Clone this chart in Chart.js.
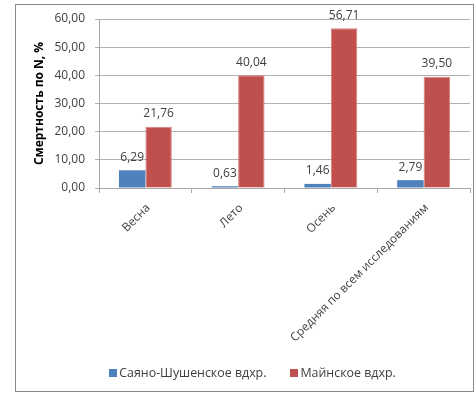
<!DOCTYPE html>
<html>
<head>
<meta charset="utf-8">
<style>
html,body{margin:0;padding:0;background:#fff;}
#wrap{position:absolute;left:0;top:0;width:474px;height:393px;}
</style>
<script src="https://cdn.jsdelivr.net/npm/chart.js@4.4.1/dist/chart.umd.min.js"></script>
</head>
<body>
<div id="wrap"><canvas id="c" width="474" height="393"></canvas></div>
<script>
const categories = ['Весна', 'Лето', 'Осень', 'Средняя по всем исследованиям'];
const seriesNames = ['Саяно-Шушенское вдхр.', 'Майнское вдхр.'];
const sayanoValues = [6.29, 0.63, 1.46, 2.79];
const mainskoeValues = [21.76, 40.04, 56.71, 39.50];
const yTickMax = 60;
const yTickStep = 10;

const FONT = '"Open Sans", "Liberation Sans", sans-serif';
const fmt = v => v.toFixed(2).replace('.', ',');

const frame = {
  id: 'frame',
  beforeDraw(chart) {
    const ctx = chart.ctx;
    ctx.save();
    ctx.strokeStyle = '#8a8a8a';
    ctx.lineWidth = 1;
    ctx.strokeRect(15.5, 4.5, 458, 387);
    ctx.restore();
  }
};

const valueLabels = {
  id: 'valueLabels',
  afterDatasetsDraw(chart) {
    const ctx = chart.ctx;
    ctx.save();
    ctx.font = '12px ' + FONT;
    ctx.fillStyle = '#404040';
    ctx.textAlign = 'center';
    ctx.textBaseline = 'middle';
    chart.data.datasets.forEach((ds, di) => {
      const meta = chart.getDatasetMeta(di);
      meta.data.forEach((bar, i) => {
        ctx.fillText(fmt(ds.data[i]), bar.x, bar.y - 13);
      });
    });
    ctx.restore();
  }
};

// Bottom legend drawn from the dataset labels and colours
const bottomLegend = {
  id: 'bottomLegend',
  afterDraw(chart) {
    const ctx = chart.ctx;
    const box = 8, textGap = 2, itemGap = 24, centerX = 252.5, centerY = 373;
    ctx.save();
    ctx.font = '12.4px ' + FONT;
    ctx.textBaseline = 'middle';
    ctx.textAlign = 'left';
    const items = chart.data.datasets.map(ds => ({
      text: ds.label, color: ds.backgroundColor, w: ctx.measureText(ds.label).width
    }));
    const total = items.reduce((s, it) => s + box + textGap + it.w, 0) + itemGap * (items.length - 1);
    let x = centerX - total / 2;
    items.forEach(it => {
      ctx.fillStyle = it.color;
      ctx.fillRect(Math.round(x), centerY - 4, box, box);
      ctx.fillStyle = '#404040';
      ctx.fillText(it.text, x + box + textGap, centerY);
      x += box + textGap + it.w + itemGap;
    });
    ctx.restore();
  }
};

new Chart(document.getElementById('c'), {
  type: 'bar',
  data: {
    labels: categories,
    datasets: [
      { label: seriesNames[0], data: sayanoValues, backgroundColor: '#4f81bd', borderWidth: 0 },
      { label: seriesNames[1], data: mainskoeValues, backgroundColor: '#c0504d', borderColor: '#d9807e', borderWidth: {left:1, right:1, top:1, bottom:0} }
    ]
  },
  options: {
    responsive: false,
    animation: false,
    devicePixelRatio: 1,
    layout: { padding: { left: 16, top: 19, right: 4, bottom: 5 } },
    datasets: { bar: { categoryPercentage: 0.57, barPercentage: 1.0 } },
    plugins: {
      legend: { display: false },
      tooltip: { enabled: false }
    },
    scales: {
      x: {
        grid: { display: true, drawOnChartArea: false, drawTicks: true, tickLength: 5, color: '#a6a6a6', offset: true },
        border: { display: true, color: '#a6a6a6' },
        ticks: {
          font: { family: FONT, size: 11.8 },
          color: '#404040',
          maxRotation: 45, minRotation: 45,
          padding: 8,
          labelOffset: 3,
          autoSkip: false
        },
        afterFit(scale) { scale.height = 200; }
      },
      y: {
        min: 0, max: yTickMax,
        ticks: {
          stepSize: yTickStep,
          font: { family: FONT, size: 12 },
          color: '#404040',
          padding: 10,
          callback: v => fmt(v)
        },
        grid: { color: '#b0b0b0', tickLength: 4 },
        border: { display: true, color: '#a6a6a6' },
        title: {
          display: true,
          text: 'Смертность по N, %',
          font: { family: FONT, size: 12, weight: 'bold' },
          color: '#000',
          padding: { top: 16, bottom: 0 }
        },
        afterFit(scale) { scale.width = 83; }
      }
    }
  },
  plugins: [frame, valueLabels, bottomLegend]
});
</script>
</body>
</html>
